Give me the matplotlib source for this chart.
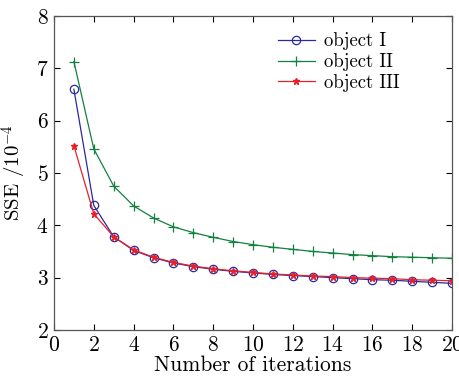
import numpy as np
import matplotlib
matplotlib.use('Agg')
import matplotlib.pyplot as plt

# dane
iterations = list(range(1, 21))
obj1 = [6.60, 4.38, 3.78, 3.52, 3.38, 3.28, 3.21, 3.16, 3.12, 3.09,
        3.06, 3.04, 3.02, 3.00, 2.98, 2.96, 2.95, 2.93, 2.91, 2.89]
obj2 = [7.13, 5.46, 4.75, 4.37, 4.14, 3.97, 3.86, 3.77, 3.69, 3.63,
        3.58, 3.54, 3.50, 3.47, 3.44, 3.42, 3.40, 3.39, 3.38, 3.37]
obj3 = [5.52, 4.22, 3.78, 3.53, 3.39, 3.29, 3.22, 3.17, 3.13, 3.10,
        3.07, 3.05, 3.03, 3.02, 3.00, 2.99, 2.98, 2.96, 2.95, 2.94]
labels = ['object I', 'object II', 'object III']

plt.rcParams['font.family'] = 'cmr10'
plt.rcParams['mathtext.fontset'] = 'cm'
plt.rcParams['axes.formatter.use_mathtext'] = True

fig = plt.figure(figsize=(4.59, 3.81), dpi=100)
ax = fig.add_axes([0.1176, 0.134, 0.8674, 0.824])

ax.plot(iterations, obj1, color='#2a2a9a', marker='o', markerfacecolor='none',
        markersize=6, markeredgewidth=0.9, linewidth=0.9, label=labels[0])
ax.plot(iterations, obj2, color='#138040', marker='+', markersize=7,
        markeredgewidth=0.9, linewidth=0.9, label=labels[1])
ax.plot(iterations, obj3, color='#e8202a', marker='*', markersize=5,
        linewidth=0.9, label=labels[2])

ax.set_xlim(0, 20)
ax.set_ylim(2, 8)
ax.set_xticks(range(0, 21, 2))
ax.set_yticks(range(2, 9))
ax.tick_params(direction='in', top=True, right=True, labelsize=15.5, length=4, pad=4)
for s in ax.spines.values():
    s.set_color('#555555')
    s.set_linewidth(0.9)

ax.set_xlabel('Number of iterations', fontsize=15.5, labelpad=0)
ax.set_ylabel(r'SSE /10$^{-4}$', fontsize=15, labelpad=5)

ax.legend(loc='upper right', bbox_to_anchor=(0.9, 0.99), frameon=False,
          fontsize=13.5, handlelength=2.0, labelspacing=0.15, borderpad=0.2,
          handletextpad=0.45)

fig.savefig('out.png', dpi=100)
